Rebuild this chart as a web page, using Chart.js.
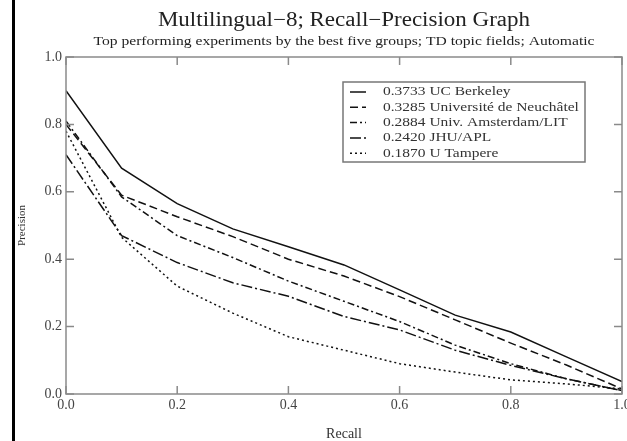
<!DOCTYPE html>
<html>
<head>
<meta charset="utf-8">
<script src="https://cdn.jsdelivr.net/npm/chart.js@4/dist/chart.umd.min.js"></script>
<style>
  html, body { margin: 0; padding: 0; background: #fff; }
  .wrap { position: relative; width: 627px; height: 441px; }
  .edge { position: absolute; left: 12px; top: 0; width: 3px; height: 441px; background: #000; }
  canvas { position: absolute; left: 0; top: 0; }
</style>
</head>
<body>
<div class="wrap">
  <canvas id="chart" width="627" height="441"></canvas>
  <div class="edge"></div>
</div>
<script>
const TITLE = "Multilingual\u22128; Recall\u2212Precision Graph";
const SUBTITLE = "Top performing experiments by the best five groups; TD topic fields; Automatic";

const recall = [0.0, 0.1, 0.2, 0.3, 0.4, 0.5, 0.6, 0.7, 0.8, 0.9, 1.0];

const berkeley  = [0.90, 0.67, 0.565, 0.49, 0.437, 0.383, 0.309, 0.234, 0.184, 0.11, 0.037];
const neuchatel = [0.80, 0.59, 0.526, 0.467, 0.40, 0.35, 0.289, 0.22, 0.151, 0.086, 0.015];
const amsterdam = [0.81, 0.585, 0.47, 0.405, 0.335, 0.275, 0.215, 0.145, 0.09, 0.045, 0.01];
const jhu       = [0.71, 0.47, 0.39, 0.33, 0.29, 0.23, 0.19, 0.13, 0.085, 0.045, 0.01];
const tampere   = [0.78, 0.465, 0.32, 0.24, 0.17, 0.13, 0.09, 0.065, 0.042, 0.03, 0.015];

const labels = [
  "0.3733 UC Berkeley",
  "0.3285 Universit\u00e9 de Neuch\u00e2tel",
  "0.2884 Univ. Amsterdam/LIT",
  "0.2420 JHU/APL",
  "0.1870 U Tampere"
];
const dashes = [[], [8, 4], [7, 3, 2, 3], [11, 3, 2, 3], [2, 3]];

const SERIF = "'Liberation Serif', 'DejaVu Serif', serif";
const FRAME = "#8a8a8a";

function pts(ys) {
  return ys.map((y, i) => ({ x: recall[i], y: y }));
}

const series = [berkeley, neuchatel, amsterdam, jhu, tampere];

// the original figure is stretched sideways, so its text is too
function wideText(ctx, text, x, y, sx) {
  ctx.save();
  ctx.translate(x, y);
  ctx.scale(sx, 1);
  ctx.fillText(text, 0, 0);
  ctx.restore();
}

// frame + inward ticks on all four sides, titles, legend
const framePlugin = {
  id: "frame",
  afterDraw(chart) {
    const ctx = chart.ctx;
    const a = chart.chartArea;
    const xs = chart.scales.x, ys = chart.scales.y;
    ctx.save();
    ctx.strokeStyle = FRAME;
    ctx.lineWidth = 1.5;
    ctx.strokeRect(a.left, a.top, a.right - a.left, a.bottom - a.top);
    ctx.beginPath();
    xs.ticks.forEach(t => {
      const px = xs.getPixelForValue(t.value);
      ctx.moveTo(px, a.bottom); ctx.lineTo(px, a.bottom - 8);
      ctx.moveTo(px, a.top); ctx.lineTo(px, a.top + 8);
    });
    ys.ticks.forEach(t => {
      const py = ys.getPixelForValue(t.value);
      ctx.moveTo(a.left, py); ctx.lineTo(a.left + 8, py);
      ctx.moveTo(a.right, py); ctx.lineTo(a.right - 8, py);
    });
    ctx.stroke();

    const cx = (a.left + a.right) / 2;
    ctx.fillStyle = "#222";
    ctx.textAlign = "center";
    ctx.textBaseline = "middle";
    ctx.font = "20px " + SERIF;
    wideText(ctx, TITLE, cx, 21, 1.15);
    ctx.font = "13px " + SERIF;
    wideText(ctx, SUBTITLE, cx, 42, 1.2);

    // legend box
    const bx = 343, by = 82, bw = 242, bh = 80;
    ctx.strokeStyle = "#777";
    ctx.lineWidth = 1.5;
    ctx.strokeRect(bx, by, bw, bh);
    ctx.textAlign = "left";
    ctx.font = "13px " + SERIF;
    chart.data.datasets.forEach((ds, i) => {
      const ry = 92 + i * 15.3;
      ctx.strokeStyle = ds.borderColor;
      ctx.lineWidth = ds.borderWidth;
      ctx.setLineDash(ds.borderDash);
      ctx.beginPath();
      ctx.moveTo(350, ry); ctx.lineTo(366, ry);
      ctx.stroke();
      ctx.setLineDash([]);
      ctx.fillStyle = "#333";
      wideText(ctx, ds.label, 383, ry, 1.19);
    });
    ctx.restore();
  }
};

new Chart(document.getElementById("chart").getContext("2d"), {
  type: "line",
  data: {
    datasets: series.map((s, i) => ({
      label: labels[i],
      data: pts(s),
      borderColor: "#111",
      borderWidth: 1.5,
      borderDash: dashes[i],
      pointRadius: 0,
      tension: 0,
      fill: false
    }))
  },
  options: {
    responsive: false,
    animation: false,
    layout: { padding: { top: 57, right: 5, left: 0, bottom: 0 } },
    plugins: {
      legend: { display: false },
      tooltip: { enabled: false },
      title: { display: false }
    },
    scales: {
      x: {
        type: "linear",
        min: 0,
        max: 1,
        grid: { display: false, drawTicks: false },
        border: { display: false },
        ticks: {
          stepSize: 0.2,
          padding: 3,
          color: "#444",
          font: { family: SERIF, size: 14 },
          callback: v => v.toFixed(1)
        },
        title: {
          display: true,
          text: "Recall",
          color: "#333",
          font: { family: SERIF, size: 14 },
          padding: { top: 0, bottom: -2 }
        },
        afterFit: s => {
          s.height = 47;
          s.paddingLeft = 0;
          s.paddingRight = 0;
        }
      },
      y: {
        min: 0,
        max: 1,
        grid: { display: false, drawTicks: false },
        border: { display: false },
        ticks: {
          stepSize: 0.2,
          padding: 4,
          color: "#444",
          font: { family: SERIF, size: 14 },
          callback: v => v.toFixed(1)
        },
        title: {
          display: true,
          text: "Precision",
          color: "#333",
          font: { family: SERIF, size: 11 },
          padding: { top: 16, bottom: 0 }
        },
        afterFit: s => { s.width = 66; }
      }
    }
  },
  plugins: [framePlugin]
});
</script>
</body>
</html>
